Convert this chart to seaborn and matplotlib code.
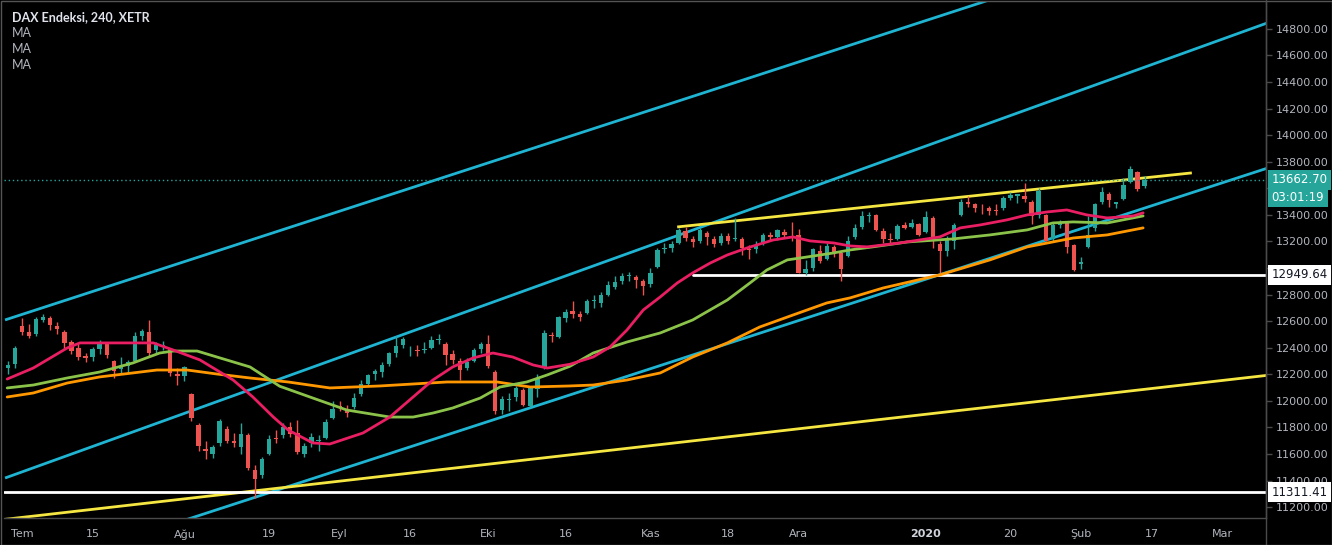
import numpy as np
import pandas as pd
import matplotlib
matplotlib.use("Agg")
import matplotlib.pyplot as plt
import matplotlib.transforms as mtransforms
from matplotlib.patches import Rectangle
import seaborn as sns

# ---------------- data (trading-day index, 0 = 1 Jul 2019) ----------------
first_day = -2
opens = [12250, 12280, 12560, 12520, 12500, 12610, 12620, 12560, 12520, 12440,
         12400, 12340, 12330, 12390, 12430, 12300, 12240, 12260, 12300, 12490,
         12520, 12380, 12410, 12390, 12200, 12190, 12050, 11820, 11640, 11600,
         11680, 11790, 11700, 11650, 11740, 11480, 11440, 11600, 11720, 11740,
         11800, 11760, 11600, 11680, 11700, 11720, 11870, 11960, 11940, 11950,
         12050, 12130, 12200, 12220, 12280, 12360, 12420, 12380, 12380, 12380,
         12400, 12460, 12430, 12350, 12300, 12250, 12300, 12390, 12430, 12220,
         11930, 12010, 12030, 12080, 11960, 12090, 12250, 12490, 12480, 12620,
         12680, 12650, 12660, 12750, 12740, 12800, 12860, 12900, 12940, 12930,
         12900, 12880, 13010, 13140, 13150, 13190, 13280, 13220, 13200, 13260,
         13220, 13190, 13240, 13220, 13220, 13140, 13140, 13180, 13250, 13230,
         13270, 13240, 13250, 12960, 13000, 13130, 13070, 13160, 13110, 13090,
         13230, 13310, 13390, 13400, 13280, 13220, 13220, 13320, 13310, 13330,
         13270, 13380, 13180, 13130, 13200, 13400, 13500, 13480, 13460, 13450,
         13440, 13450, 13530, 13540, 13540, 13500, 13400, 13400, 13220, 13320,
         13340, 13170, 13030, 13160, 13300, 13500, 13560, 13480, 13520, 13650,
         13720, 13620]
highs = [12300, 12410, 12625, 12575, 12630, 12656, 12640, 12590, 12530, 12460,
         12435, 12360, 12405, 12460, 12440, 12310, 12330, 12310, 12520, 12540,
         12605, 12440, 12450, 12400, 12250, 12265, 12060, 11830, 11700, 11665,
         11860, 11810, 11760, 11830, 11760, 11520, 11580, 11740, 11780, 11830,
         11840, 11855, 11680, 11760, 11740, 11860, 12000, 12000, 11970, 12060,
         12160, 12200, 12240, 12290, 12370, 12490, 12480, 12410, 12420, 12440,
         12490, 12500, 12440, 12380, 12320, 12320, 12400, 12440, 12495, 12230,
         12040, 12060, 12110, 12100, 12100, 12200, 12530, 12520, 12640, 12690,
         12750, 12680, 12770, 12800, 12820, 12900, 12940, 12960, 12970, 12950,
         12920, 13000, 13150, 13190, 13200, 13300, 13310, 13240, 13300, 13280,
         13240, 13260, 13260, 13380, 13230, 13170, 13200, 13260, 13270, 13290,
         13290, 13350, 13290, 13060, 13150, 13170, 13190, 13170, 13125, 13240,
         13330, 13430, 13425, 13410, 13300, 13260, 13330, 13350, 13370, 13340,
         13430, 13390, 13200, 13240, 13340, 13520, 13540, 13490, 13480, 13470,
         13480, 13540, 13570, 13560, 13640, 13510, 13600, 13410, 13340, 13360,
         13350, 13180, 13080, 13390, 13490, 13610, 13570, 13500, 13680, 13765,
         13730, 13690]
lows = [12200, 12250, 12495, 12470, 12490, 12590, 12530, 12500, 12395, 12350,
        12310, 12290, 12300, 12350, 12320, 12170, 12200, 12210, 12290, 12460,
        12340, 12355, 12385, 12190, 12120, 12150, 11850, 11620, 11560, 11570,
        11660, 11680, 11655, 11600, 11480, 11266, 11420, 11590, 11680, 11720,
        11730, 11600, 11580, 11650, 11620, 11710, 11860, 11920, 11880, 11940,
        12040, 12110, 12160, 12180, 12260, 12330, 12400, 12340, 12340, 12360,
        12390, 12430, 12270, 12280, 12160, 12230, 12290, 12360, 12250, 11900,
        11900, 11920, 12000, 11960, 11950, 12030, 12240, 12440, 12470, 12590,
        12620, 12600, 12650, 12700, 12710, 12790, 12840, 12880, 12900, 12850,
        12800, 12860, 13000, 13110, 13120, 13180, 13200, 13160, 13190, 13170,
        13160, 13170, 13180, 13200, 13100, 13070, 13110, 13170, 13200, 13210,
        13230, 13200, 12960, 12950, 12980, 13040, 13060, 13080, 12905, 13080,
        13220, 13290, 13350, 13280, 13190, 13190, 13210, 13290, 13300, 13240,
        13260, 13150, 12948, 13090, 13140, 13390, 13460, 13420, 13410, 13400,
        13400, 13440, 13510, 13490, 13500, 13330, 13380, 13200, 13200, 13300,
        13110, 12980, 12990, 13150, 13280, 13480, 13460, 13450, 13510, 13640,
        13580, 13600]
closes = [12271, 12399, 12521, 12487, 12616, 12629, 12568, 12543, 12437, 12373,
          12332, 12323, 12387, 12430, 12342, 12227, 12260, 12289, 12490, 12522,
          12362, 12419, 12418, 12210, 12189, 12253, 11872, 11658, 11620, 11650,
          11845, 11694, 11679, 11750, 11493, 11412, 11563, 11715, 11713, 11802,
          11747, 11612, 11658, 11731, 11702, 11838, 11939, 11953, 11910, 12025,
          12127, 12192, 12226, 12268, 12359, 12410, 12469, 12380, 12372, 12389,
          12457, 12468, 12342, 12307, 12235, 12289, 12381, 12428, 12263, 11925,
          12014, 12013, 12097, 11970, 12094, 12164, 12512, 12486, 12630, 12670,
          12655, 12634, 12748, 12754, 12798, 12872, 12895, 12941, 12940, 12910,
          12867, 12961, 13136, 13148, 13179, 13289, 13228, 13198, 13283, 13230,
          13180, 13241, 13207, 13221, 13148, 13138, 13163, 13246, 13232, 13287,
          13245, 13236, 12965, 12989, 13140, 13055, 13167, 13106, 12990, 13200,
          13300, 13390, 13400, 13287, 13222, 13211, 13318, 13300, 13337, 13249,
          13386, 13219, 13127, 13227, 13321, 13495, 13483, 13452, 13456, 13432,
          13429, 13526, 13549, 13556, 13516, 13389, 13577, 13205, 13324, 13345,
          13158, 12982, 13045, 13250, 13479, 13575, 13514, 13494, 13627, 13749,
          13595, 13662.70]

# moving averages (day index, price)
ma_fast_x = [-2.1, 1.6, 6.4, 8.2, 18.6, 21.4, 25.2, 29.9, 32.7, 35.6, 37.7, 41.2, 43.6,
             48.3, 52.1, 55.4, 58.2, 61.0, 63.9, 66.7, 69.5, 72.4, 74.4, 77.6, 80.9,
             83.3, 85.7, 88.0, 90.4, 92.8, 95.0, 97.5, 99.9, 102.7, 106.4, 109.2,
             111.6, 114.9, 117.3, 119.7, 124.4, 130.0, 132.9, 135.7, 139.5, 142.4,
             145.2, 148.0, 150.8, 153.7, 157.4, 158.8]
ma_fast_y = [12164, 12247, 12398, 12436, 12436, 12383, 12308, 12157, 12029, 11878, 11780,
             11683, 11675, 11758, 11878, 12029, 12157, 12255, 12323, 12360, 12330, 12270,
             12247, 12275, 12330, 12406, 12534, 12684, 12782, 12887, 12963, 13038, 13098,
             13151, 13211, 13234, 13204, 13189, 13166, 13159, 13189, 13234, 13302, 13324,
             13362, 13400, 13422, 13437, 13400, 13377, 13392, 13415]
ma_mid_x = [-2.1, 1.6, 6.4, 11.0, 15.7, 19.5, 21.4, 24.8, 27.6, 32.3, 36.5, 41.2, 46.0,
            52.1, 55.4, 58.2, 61.0, 64.9, 67.7, 71.5, 74.4, 77.6, 80.9, 85.7, 90.4,
            95.0, 99.9, 103.1, 105.5, 108.4, 111.2, 114.9, 117.3, 120.5, 125.4, 131.9,
            137.1, 142.4, 146.0, 148.9, 153.7, 158.8]
ma_mid_y = [12097, 12119, 12172, 12217, 12285, 12360, 12375, 12375, 12330, 12255, 12110,
            12021, 11931, 11878, 11878, 11908, 11946, 12021, 12104, 12142, 12195, 12260,
            12360, 12443, 12511, 12609, 12759, 12887, 12985, 13061, 13083, 13113, 13136,
            13159, 13196, 13219, 13249, 13287, 13339, 13347, 13339, 13392]
ma_slow_x = [-2.1, 1.6, 6.4, 11.0, 15.7, 19.1, 23.4, 27.6, 32.3, 37.7, 43.6, 50.7, 60.2,
             67.3, 72.0, 77.6, 80.9, 85.7, 90.4, 95.0, 99.9, 104.5, 109.2, 114.0, 117.3,
             122.0, 130.0, 137.1, 142.4, 148.9, 153.7, 158.8]
ma_slow_y = [12029, 12059, 12134, 12180, 12210, 12232, 12232, 12202, 12172, 12142, 12097,
             12112, 12142, 12142, 12104, 12112, 12119, 12157, 12210, 12330, 12436, 12556,
             12646, 12737, 12775, 12850, 12948, 13061, 13159, 13226, 13249, 13302]

# drawn trend lines: (day index start, price start, day index end, price end)
cyan_lines = [(-2.4, 12609, 145.0, 15156),
              (-2.4, 11419, 180.0, 14914),
              (20.0, 11049, 180.0, 13814)]
yellow_lines = [(-2.4, 11108, 180.0, 12214),
                (92.8, 13309, 165.7, 13716)]
level_prices = [12949.64, 11311.41]
level_starts = [95.0, -2.6]
last_price = 13662.70
countdown = "03:01:19"

tick_days = [0, 10, 23, 35, 45, 55, 66, 77, 89, 100, 110, 128, 140, 150, 160, 170]
tick_labels = ["Tem", "15", "Ağu", "19", "Eyl", "16", "Eki", "16", "Kas", "18",
               "Ara", "2020", "20", "Şub", "17", "Mar"]
price_ticks = list(range(11200, 14801, 200))

title = "DAX Endeksi, 240, XETR"
legend_items = ["MA", "MA", "MA"]

# ---------------- style ----------------
sns.set_theme(style="dark", rc={
    "axes.facecolor": "#000000", "figure.facecolor": "#000000",
    "axes.edgecolor": "#4a4a4a", "text.color": "#d1d4dc",
    "xtick.color": "#b2b5be", "ytick.color": "#b2b5be",
    "axes.grid": False,
})
plt.rcParams["font.family"] = ["DejaVu Sans"]

UP, DOWN = "#26a69a", "#ef5350"
CYAN, YELLOW = "#1fb4d2", "#f5e642"

W, H = 1332, 545
RIGHT = 1266
fig = plt.figure(figsize=(W / 100, H / 100), dpi=100)
ax = fig.add_axes([4 / W, 1 - 518 / H, (RIGHT - 4) / W, (518 - 1) / H])
ax.set_facecolor("#000000")

df = pd.DataFrame({"open": opens, "high": highs, "low": lows, "close": closes})
df["day"] = np.arange(first_day, first_day + len(df))
df["up"] = df["close"] >= df["open"]
colors = np.where(df["up"], UP, DOWN)

# trend lines (behind candles)
for (x0, y0, x1, y1) in cyan_lines:
    ax.plot([x0, x1], [y0, y1], color=CYAN, lw=2.0, zorder=2, solid_capstyle="butt")
for (x0, y0, x1, y1) in yellow_lines:
    ax.plot([x0, x1], [y0, y1], color=YELLOW, lw=2.0, zorder=2, solid_capstyle="butt")
for p, s in zip(level_prices, level_starts):
    ax.plot([s, 180], [p, p], color="#ffffff", lw=2.0, zorder=2)

# candles
ax.vlines(df["day"], df["low"], df["high"], colors=colors, lw=1.0, zorder=3)
body_bottom = df[["open", "close"]].min(axis=1)
body_h = (df["close"] - df["open"]).abs().clip(lower=6)
ax.bar(df["day"], body_h, bottom=body_bottom, width=0.62, color=colors,
       linewidth=0, zorder=4)

# moving averages
sns.lineplot(x=ma_slow_x, y=ma_slow_y, color="#ff9800", lw=2.0, ax=ax, zorder=5)
sns.lineplot(x=ma_mid_x, y=ma_mid_y, color="#8bc34a", lw=2.0, ax=ax, zorder=5)
sns.lineplot(x=ma_fast_x, y=ma_fast_y, color="#e91e63", lw=2.0, ax=ax, zorder=5)

# last price dotted line
ax.axhline(last_price, color=UP, lw=1.0, ls=(0, (1, 2)), zorder=6)

# x range chosen so that the right edge matches the reference
ax.set_xlim(-2.55, -2.55 + (RIGHT - 4) / 7.06)
ax.set_ylim(11118, 15010)

# axes
for side in ["left", "top"]:
    ax.spines[side].set_visible(False)
for side in ["right", "bottom"]:
    ax.spines[side].set_color("#4a4a4a")
    ax.spines[side].set_linewidth(1.0)

ax.yaxis.tick_right()
ax.set_yticks(price_ticks)
ax.set_yticklabels(["" if v in (13600, 13000) else f"{v:.2f}" for v in price_ticks])
ax.tick_params(axis="y", length=4, width=1, pad=3, labelsize=8, color="#4a4a4a",
               labelcolor="#b2b5be")
ax.set_xticks(tick_days)
ax.set_xticklabels(tick_labels)
ax.tick_params(axis="x", length=4, width=1, pad=4, labelsize=8, color="#4a4a4a",
               labelcolor="#b2b5be")
for lab in ax.get_xticklabels():
    if lab.get_text() == "2020":
        lab.set_fontweight("bold")
        lab.set_color("#d1d4dc")
ax.set_xlabel("")
ax.set_ylabel("")
if ax.get_legend():
    ax.get_legend().remove()

# price label boxes on the right axis
trans = mtransforms.blended_transform_factory(ax.transAxes, ax.transData)
def price_box(y, text, fc, tc, dy=0):
    ax.annotate(text, xy=(1.0, y), xycoords=trans, xytext=(4, dy),
                textcoords="offset points", ha="left", va="center", fontsize=8.5,
                color=tc, zorder=10, annotation_clip=False,
                bbox=dict(boxstyle="square,pad=0.3", fc=fc, ec="none"))

price_box(last_price, f"{last_price:.2f}", UP, "#ffffff")
price_box(last_price, countdown, UP, "#ffffff", dy=-12.5)
for p in level_prices:
    price_box(p, f"{p:.2f}", "#ffffff", "#131722")

# legend text
fig.text(12 / W, 1 - 17 / H, title, fontsize=9, fontweight="bold", color="#e0e3eb",
         va="center", ha="left", family=["Lato", "DejaVu Sans"])
for i, t in enumerate(legend_items):
    fig.text(12 / W, 1 - (33 + 16 * i) / H, t, fontsize=9, color="#b2b5be",
             va="center", ha="left", family=["Lato", "DejaVu Sans"])

# outer frame and right axis separator through the time scale
fig.add_artist(plt.Line2D([RIGHT / W, RIGHT / W], [0, 1], color="#4a4a4a", lw=1.0,
                          transform=fig.transFigure))
fig.add_artist(Rectangle((0.5 / W, 0.5 / H), 1 - 1 / W, 1 - 1 / H, fill=False,
                         ec="#555555", lw=1.0, transform=fig.transFigure))

fig.savefig("out.png", dpi=100, facecolor="#000000")
